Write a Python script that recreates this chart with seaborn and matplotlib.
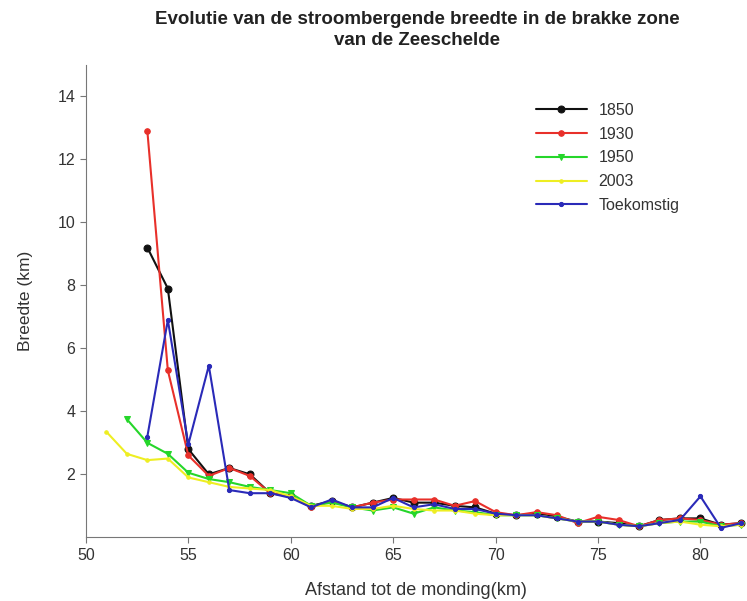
import numpy as np
import pandas as pd
import matplotlib
matplotlib.use("Agg")
import matplotlib.pyplot as plt
import seaborn as sns

# Afstand tot de monding (km) en breedte (km) per reeks
km_1850 = [53, 54, 55, 56, 57, 58, 59, 60, 61, 62, 63, 64, 65, 66, 67, 68, 69,
           70, 71, 72, 73, 74, 75, 76, 77, 78, 79, 80, 81, 82]
b_1850 = [9.2, 7.9, 2.8, 2.0, 2.2, 2.0, 1.4, 1.3, 1.0, 1.15, 0.95, 1.1, 1.25, 1.1,
          1.1, 1.0, 0.95, 0.75, 0.7, 0.75, 0.65, 0.5, 0.5, 0.45, 0.35, 0.55, 0.6,
          0.6, 0.4, 0.45]

km_1930 = [53, 54, 55, 56, 57, 58, 59, 60, 61, 62, 63, 64, 65, 66, 67, 68, 69,
           70, 71, 72, 73, 74, 75, 76, 77, 78, 79, 80, 81, 82]
b_1930 = [12.9, 5.3, 2.6, 1.95, 2.2, 1.95, 1.4, 1.3, 0.95, 1.15, 0.95, 1.1, 1.2,
          1.2, 1.2, 1.0, 1.15, 0.8, 0.7, 0.8, 0.7, 0.45, 0.65, 0.55, 0.35, 0.55,
          0.6, 0.55, 0.4, 0.45]

km_1950 = [52, 53, 54, 55, 56, 57, 58, 59, 60, 61, 62, 63, 64, 65, 66, 67, 68,
           69, 70, 71, 72, 73, 74, 75, 76, 77, 78, 79, 80, 81, 82]
b_1950 = [3.75, 3.0, 2.65, 2.05, 1.85, 1.75, 1.6, 1.5, 1.4, 1.0, 1.1, 0.95, 0.85,
          0.95, 0.75, 0.95, 0.85, 0.8, 0.7, 0.7, 0.7, 0.6, 0.5, 0.5, 0.4, 0.35,
          0.45, 0.5, 0.5, 0.35, 0.4]

km_2003 = [51, 52, 53, 54, 55, 56, 57, 58, 59, 60, 61, 62, 63, 64, 65, 66, 67,
           68, 69, 70, 71, 72, 73, 74, 75, 76, 77, 78, 79, 80, 81, 82]
b_2003 = [3.35, 2.65, 2.45, 2.5, 1.9, 1.75, 1.6, 1.55, 1.5, 1.3, 1.0, 1.0, 0.9,
          0.9, 1.0, 0.9, 0.85, 0.85, 0.75, 0.7, 0.7, 0.7, 0.6, 0.5, 0.5, 0.4,
          0.35, 0.45, 0.5, 0.4, 0.35, 0.4]

km_toek = [53, 54, 55, 56, 57, 58, 59, 60, 61, 62, 63, 64, 65, 66, 67, 68, 69,
           70, 71, 72, 73, 74, 75, 76, 77, 78, 79, 80, 81, 82]
b_toek = [3.2, 6.9, 2.95, 5.45, 1.5, 1.4, 1.4, 1.25, 0.95, 1.2, 0.95, 0.95, 1.25,
          0.95, 1.05, 0.9, 0.9, 0.75, 0.7, 0.7, 0.6, 0.5, 0.5, 0.4, 0.35, 0.45,
          0.55, 1.3, 0.3, 0.45]

series = [
    ("1850", km_1850, b_1850, "#111111", "o", 5),
    ("1930", km_1930, b_1930, "#e8302a", "o", 4),
    ("1950", km_1950, b_1950, "#25d62a", "v", 5),
    ("2003", km_2003, b_2003, "#eeee22", ".", 5),
    ("Toekomstig", km_toek, b_toek, "#2a2ab8", ".", 6),
]

sns.set_style("ticks")
plt.rcParams["font.family"] = ["Liberation Sans", "DejaVu Sans"]

fig = plt.figure(figsize=(7.47, 6.01), dpi=100)
ax = fig.add_axes([0.115, 0.106, 0.883, 0.786])

for name, km, b, col, mk, ms in series:
    df = pd.DataFrame({"km": km, "breedte": b})
    sns.lineplot(data=df, x="km", y="breedte", ax=ax, color=col, marker=mk,
                 markersize=ms, markeredgecolor=col, linewidth=1.5, label=name,
                 sort=False)

ax.set_xlim(50, 82.2)
ax.set_ylim(0, 15)
ax.set_xticks([50, 55, 60, 65, 70, 75, 80])
ax.set_yticks([2, 4, 6, 8, 10, 12, 14])
for s in ["top", "right"]:
    ax.spines[s].set_visible(False)
for s in ["left", "bottom"]:
    ax.spines[s].set_color("#777777")
ax.tick_params(colors="#777777", labelcolor="#333333", labelsize=11.5, length=4)

ax.set_xlabel("Afstand tot de monding(km)", fontsize=13, color="#333333",
              labelpad=14)
ax.set_ylabel("Breedte (km)", fontsize=12.5, color="#333333", labelpad=18)
fig.suptitle("Evolutie van de stroombergende breedte in de brakke zone\nvan de Zeeschelde",
             x=0.558, y=0.982, fontsize=13.5, fontweight="bold", color="#222222",
             linespacing=1.3)

leg = ax.legend(loc="upper left", bbox_to_anchor=(0.66, 0.95), frameon=False,
                fontsize=11.5, handlelength=3.2, handletextpad=0.75,
                labelspacing=0.55)
for t in leg.get_texts():
    t.set_color("#333333")

fig.savefig("out.png", dpi=100)
